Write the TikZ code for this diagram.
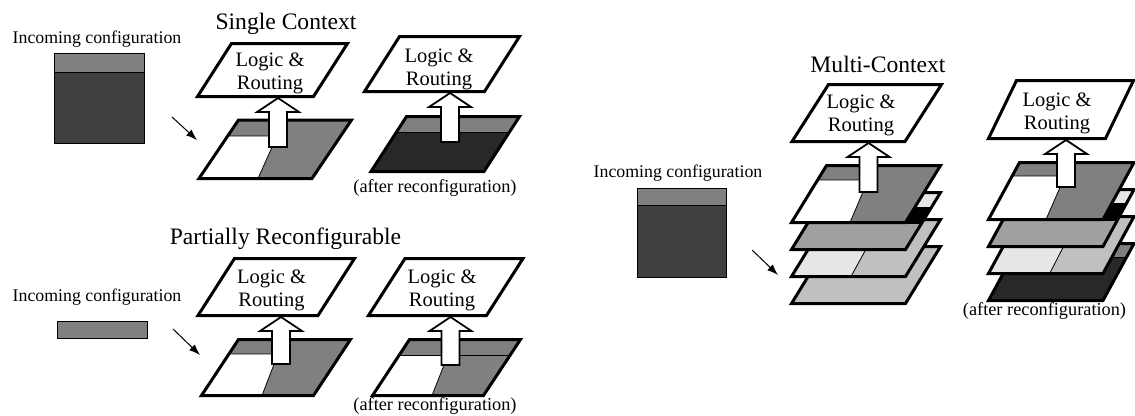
\documentclass[tikz,border=0pt]{standalone}
\usepackage{fontspec}
\setmainfont{Liberation Serif}
\usetikzlibrary{arrows.meta,calc}
\definecolor{cstripe}{HTML}{808080}
\definecolor{cdark}{HTML}{404040}
\definecolor{cvdark}{HTML}{282828}
\definecolor{cmid}{HTML}{A0A0A0}
\definecolor{clight}{HTML}{E6E6E6}
\definecolor{csilver}{HTML}{C0C0C0}
\newcommand{\pgram}[5]{(#1,#2) -- ++(#3,0) -- ++(-#5,#4) -- ++(-#3,0) -- cycle}
\newcommand{\blockarrow}[2]{\draw[hollowarrow] let \p1=(#1), \p2=(#2) in
  ({\x1-9pt},{\y1}) -- ({\x1-9pt},{\y2-14pt}) -- ({\x1-21pt},{\y2-14pt}) -- ({\x1},{\y2})
  -- ({\x1+21pt},{\y2-14pt}) -- ({\x1+9pt},{\y2-14pt}) -- ({\x1+9pt},{\y1}) -- cycle;}
\tikzset{
  plane/.style={line width=3pt, line join=miter},
  logicbox/.style={draw, line width=3pt, fill=white, line join=miter},
  inner/.style={line width=0.8pt},
  thinbox/.style={draw, line width=1pt},
  hollowarrow/.style={draw, line width=1.8pt, fill=white, line join=miter},
  feed/.style={line width=1pt, -{Latex[length=11pt,width=8pt]}},
  lbl/.style={font=\fontsize{17.8}{20}\selectfont, inner sep=0pt},
  ttl/.style={font=\fontsize{23.6}{26}\selectfont, inner sep=0pt},
  lr/.style={font=\fontsize{20.5}{23}\selectfont, align=center, inner sep=0pt},
  aft/.style={font=\fontsize{18.3}{20}\selectfont, inner sep=0pt},
}
\begin{document}
\begin{tikzpicture}[x=1pt, y=-1pt]
\useasboundingbox (0,0) rectangle (1135,415);

% ================= Single Context =================
\node[lbl, anchor=base] (inA) at (97,43) {Incoming configuration};
\fill[cdark] (54,53) rectangle (144,143);
\fill[cstripe] (54,53) rectangle (144,72);
\draw[inner] (54,72) -- (144,72);
\draw[thinbox] (54,53) rectangle (144,143);
\node[ttl, anchor=base] (tiA) at (286,29) {Single Context};

% plane A1
\begin{scope}
\clip \pgram{238.5}{120}{113}{58.5}{39.5};
\fill[cstripe] (180,100) rectangle (370,190);
\fill[white] (180,136) -- (277,136) -- (258,178.5) -- (180,178.5) -- cycle;
\draw[inner] (180,136) -- (277,136) -- (258,178.5);
\end{scope}
\draw[plane] \pgram{238.5}{120}{113}{58.5}{39.5};
\draw[logicbox] \pgram{231.5}{43.5}{116}{53}{34};
\node[lr] (lrA1) at (270,73.5) {Logic \&\\Routing};
\coordinate (sA1) at (278,147);
\coordinate (tA1) at (278,98);
\blockarrow{sA1}{tA1}
\coordinate (fA) at (172,117);
\coordinate (eA) at (197,140);
\draw[feed] (fA) -- (eA);

% plane A2
\begin{scope}
\clip \pgram{406.5}{116.5}{113}{55}{35.5};
\fill[cvdark] (360,100) rectangle (540,190);
\fill[cstripe] (360,100) rectangle (540,132);
\draw[inner] (360,132) -- (540,132);
\end{scope}
\draw[plane] \pgram{406.5}{116.5}{113}{55}{35.5};
\draw[logicbox] \pgram{399.5}{36.5}{120}{55}{35};
\node[lr] (lrA2) at (439,69.5) {Logic \&\\Routing};
\coordinate (sA2) at (450,142);
\coordinate (tA2) at (450,93);
\blockarrow{sA2}{tA2}
\node[aft, anchor=base] (afA) at (435,192) {(after reconfiguration)};

% ================= Partially Reconfigurable =================
\node[lbl, anchor=base] (inB) at (97,301) {Incoming configuration};
\fill[cstripe] (57,321) rectangle (147,338);
\draw[thinbox] (57,321) rectangle (147,338);
\node[ttl, anchor=base] (tiB) at (285.5,244) {Partially Reconfigurable};

% plane B1
\begin{scope}
\clip \pgram{238.5}{339.5}{112}{56}{37};
\fill[cstripe] (180,320) rectangle (370,410);
\fill[white] (180,354) -- (278,354) -- (262,395.5) -- (180,395.5) -- cycle;
\draw[inner] (180,354) -- (278,354) -- (262,395.5);
\end{scope}
\draw[plane] \pgram{238.5}{339.5}{112}{56}{37};
\draw[logicbox] \pgram{234.5}{258.5}{120}{57}{36.5};
\node[lr] (lrB1) at (271.5,290) {Logic \&\\Routing};
\coordinate (sB1) at (281,364);
\coordinate (tB1) at (281,317);
\blockarrow{sB1}{tB1}
\coordinate (fB) at (173,329);
\coordinate (eB) at (200,355);
\draw[feed] (fB) -- (eB);

% plane B2
\begin{scope}
\clip \pgram{409.5}{339.5}{111}{56}{37};
\fill[cstripe] (360,320) rectangle (540,410);
\fill[white] (360,355) -- (448,355) -- (432,395.5) -- (360,395.5) -- cycle;
\draw[inner] (360,355) -- (540,355);
\draw[inner] (448,355) -- (432,395.5);
\end{scope}
\draw[plane] \pgram{409.5}{339.5}{111}{56}{37};
\draw[logicbox] \pgram{405}{258.5}{118}{57}{36.5};
\node[lr] (lrB2) at (442,290) {Logic \&\\Routing};
\coordinate (sB2) at (450.5,365);
\coordinate (tB2) at (450.5,317);
\blockarrow{sB2}{tB2}
\node[aft, anchor=base] (afB) at (435,410) {(after reconfiguration)};

% ================= Multi-Context =================
\node[lbl, anchor=base] (inC) at (678,177) {Incoming configuration};
\fill[cdark] (637,188) rectangle (726,277);
\fill[cstripe] (637,188) rectangle (726,205);
\draw[inner] (637,205) -- (726,205);
\draw[thinbox] (637,188) rectangle (726,277);
\node[ttl, anchor=base] (tiC) at (878,72) {Multi-Context};
\coordinate (fC) at (752,250);
\coordinate (eC) at (778,275);
\draw[feed] (fC) -- (eC);

% stack C1: plane 4
\begin{scope}
\clip \pgram{826.5}{246.5}{114}{57}{35};
\fill[csilver] (770,240) rectangle (960,310);
\end{scope}
\draw[plane] \pgram{826.5}{246.5}{114}{57}{35};
% plane 3
\begin{scope}
\clip \pgram{826.5}{219.5}{114}{57}{35};
\fill[csilver] (770,210) rectangle (960,290);
\fill[clight] (770,219.5) -- (882.3,219.5) -- (851,276.5) -- (770,276.5) -- cycle;
\draw[inner] (882.3,219.5) -- (851,276.5);
\end{scope}
\draw[plane] \pgram{826.5}{219.5}{114}{57}{35};
% plane 2
\begin{scope}
\clip \pgram{826.5}{192.5}{114}{57}{35};
\fill[cmid] (770,180) rectangle (960,260);
\fill[black] (770,207) rectangle (960,224);
\fill[clight] (770,180) rectangle (960,207);
\end{scope}
\draw[plane] \pgram{826.5}{192.5}{114}{57}{35};
% plane 1
\begin{scope}
\clip \pgram{826.5}{165.5}{114}{57}{35};
\fill[cstripe] (770,150) rectangle (960,230);
\fill[white] (770,180) -- (868,180) -- (850,222.5) -- (770,222.5) -- cycle;
\draw[inner] (770,180) -- (868,180) -- (850,222.5);
\end{scope}
\draw[plane] \pgram{826.5}{165.5}{114}{57}{35};
\draw[logicbox] \pgram{828.5}{84.5}{113}{57}{36.5};
\node[lr] (lrC1) at (861,115.5) {Logic \&\\Routing};
\coordinate (sC1) at (868.5,192);
\coordinate (tC1) at (868.5,143);
\blockarrow{sC1}{tC1}

% stack C2: plane 4
\begin{scope}
\clip \pgram{1019.5}{243.5}{114.5}{57}{31};
\fill[cvdark] (960,230) rectangle (1140,310);
\fill[cstripe] (960,230) rectangle (1140,257);
\draw[inner] (960,257) -- (1140,257);
\end{scope}
\draw[plane] \pgram{1019.5}{243.5}{114.5}{57}{31};
% plane 3
\begin{scope}
\clip \pgram{1019.5}{216.5}{114.5}{57}{31};
\fill[csilver] (960,200) rectangle (1140,290);
\fill[clight] (960,216.5) -- (1078.8,216.5) -- (1049.7,273.5) -- (960,273.5) -- cycle;
\draw[inner] (1078.8,216.5) -- (1049.7,273.5);
\end{scope}
\draw[plane] \pgram{1019.5}{216.5}{114.5}{57}{31};
% plane 2
\begin{scope}
\clip \pgram{1019.5}{189.5}{114.5}{57}{31};
\fill[cmid] (960,180) rectangle (1140,260);
\fill[black] (960,203) rectangle (1140,221);
\fill[clight] (960,180) rectangle (1140,203);
\end{scope}
\draw[plane] \pgram{1019.5}{189.5}{114.5}{57}{31};
% plane 1
\begin{scope}
\clip \pgram{1019.5}{162.5}{114.5}{57}{31};
\fill[cstripe] (960,150) rectangle (1140,230);
\fill[white] (960,176) -- (1065,176) -- (1046,219.5) -- (960,219.5) -- cycle;
\draw[inner] (960,176) -- (1065,176) -- (1046,219.5);
\end{scope}
\draw[plane] \pgram{1019.5}{162.5}{114.5}{57}{31};
\draw[logicbox] \pgram{1016.5}{80.5}{117}{58}{28};
\node[lr] (lrC2) at (1057,113) {Logic \&\\Routing};
\coordinate (sC2) at (1066,187);
\coordinate (tC2) at (1066,140);
\blockarrow{sC2}{tC2}
\node[aft, anchor=base] (afC) at (1044.5,315) {(after reconfiguration)};
\end{tikzpicture}
\end{document}
